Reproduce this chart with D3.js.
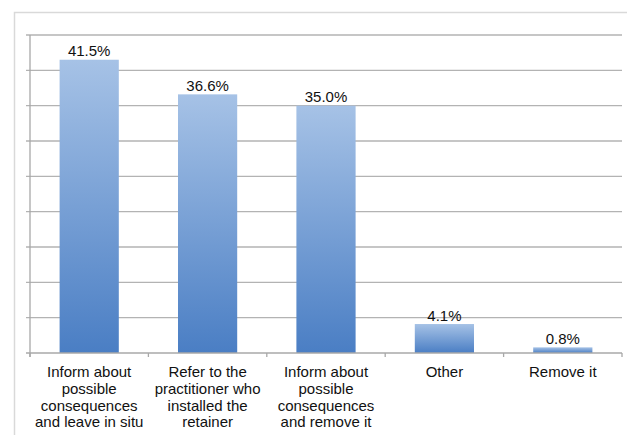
<!DOCTYPE html>
<html><head><meta charset="utf-8">
<script src="https://cdn.jsdelivr.net/npm/d3@7"></script>
<style>body{margin:0;background:#fff}svg{display:block}</style>
</head><body>
<script>
const categories = [
  ["Inform about","possible","consequences","and leave in situ"],
  ["Refer to the","practitioner who","installed the","retainer"],
  ["Inform about","possible","consequences","and remove it"],
  ["Other"],
  ["Remove it"]
];
const values = [41.5, 36.6, 35.0, 4.1, 0.8];
const valueLabels = ["41.5%","36.6%","35.0%","4.1%","0.8%"];
const yTicks = [0,5,10,15,20,25,30,35,40,45];

const W = 627, H = 435;
const m = {left:30, right:5, top:35, bottom:82};
const svg = d3.select("body").append("svg").attr("width",W).attr("height",H);

const defs = svg.append("defs");
const grad = defs.append("linearGradient").attr("id","bg").attr("x1",0).attr("y1",0).attr("x2",0).attr("y2",1);
grad.append("stop").attr("offset","0%").attr("stop-color","#a6c2e6");
grad.append("stop").attr("offset","100%").attr("stop-color","#4a7ec4");

// outer frame
svg.append("rect").attr("x",14.5).attr("y",12.5).attr("width",W).attr("height",H)
  .attr("fill","#fff").attr("stroke","#d9d9d9").attr("stroke-width",1.5);

const x = d3.scaleBand().domain(d3.range(values.length)).range([m.left, W-m.right]).paddingInner(0.5).paddingOuter(0.25);
const y = d3.scaleLinear().domain([0,45]).range([H-m.bottom, m.top]);

// gridlines
svg.append("g").selectAll("line").data(yTicks.slice(1)).join("line")
  .attr("x1",m.left-4).attr("x2",W-m.right)
  .attr("y1",d=>y(d)).attr("y2",d=>y(d))
  .attr("stroke","#b3b3b3").attr("stroke-width",1.3);

// y axis
svg.append("line").attr("x1",m.left).attr("x2",m.left).attr("y1",y(45)).attr("y2",y(0)+4)
  .attr("stroke","#a8a8a8").attr("stroke-width",1.3);

// bars
svg.append("g").selectAll("rect").data(values).join("rect")
  .attr("x",(d,i)=>x(i)).attr("width",x.bandwidth())
  .attr("y",d=>y(d)).attr("height",d=>y(0)-y(d))
  .attr("fill","url(#bg)");

// x axis
const step = x.step();
svg.append("line").attr("x1",m.left-4).attr("x2",W-m.right).attr("y1",y(0)).attr("y2",y(0))
  .attr("stroke","#a8a8a8").attr("stroke-width",1.3);
svg.append("g").selectAll("line").data(d3.range(values.length+1)).join("line")
  .attr("x1",i=>m.left+i*step).attr("x2",i=>m.left+i*step)
  .attr("y1",y(0)).attr("y2",y(0)+4)
  .attr("stroke","#a8a8a8").attr("stroke-width",1.3);

// value labels
svg.append("g").selectAll("text").data(values).join("text")
  .attr("x",(d,i)=>x(i)+x.bandwidth()/2).attr("y",d=>y(d)-3.5)
  .attr("text-anchor","middle").attr("font-family","Liberation Sans, Arial, sans-serif")
  .attr("font-size","15px").attr("fill","#111").text((d,i)=>valueLabels[i]);

// category labels
const cg = svg.append("g").selectAll("text").data(categories).join("text")
  .attr("text-anchor","middle").attr("font-family","Liberation Sans, Arial, sans-serif")
  .attr("font-size","15px").attr("fill","#111");
cg.each(function(lines,i){
  d3.select(this).selectAll("tspan").data(lines).join("tspan")
    .attr("x",x(i)+x.bandwidth()/2).attr("y",(d,j)=>377+j*16.8).text(d=>d);
});
</script>
</body></html>
